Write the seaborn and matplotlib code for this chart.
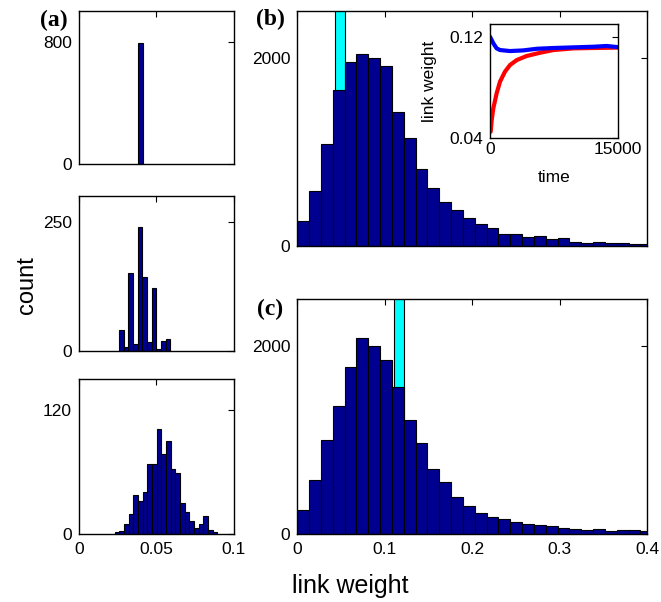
import numpy as np
import pandas as pd
import matplotlib
matplotlib.use("Agg")
import matplotlib.pyplot as plt
import seaborn as sns

# ---------------- data ----------------
# panel (a) histograms (bin width 0.003)
a1_start = 0.0382
a1_counts = [790]
a2_start = 0.0259
a2_counts = [40, 8, 150, 13, 240, 143, 18, 121, 3, 20, 23]
a3_start = 0.0231
a3_counts = [1.6, 2.6, 9, 19.4, 37.5, 31.4, 40.4, 67.6, 67.9, 102, 77.3, 89.9,
             63, 58.5, 30, 21.3, 12.3, 5.8, 9, 17.1, 3.6, 1.6]
a_bin = 0.00302

# panels (b), (c) histograms (30 bins from 0, width 0.0135)
bc_bin = 0.01352
b_counts = [265, 584, 1080, 1653, 1950, 2042, 1996, 1908, 1427, 1147, 821, 616,
            464, 382, 294, 230, 191, 124, 124, 88, 103, 67, 81, 39, 25, 39, 32,
            25, 21, 14]
c_counts = [255, 570, 1005, 1363, 1784, 2088, 2007, 1855, 1561, 1218, 966, 697,
            552, 389, 297, 219, 180, 163, 127, 106, 96, 81, 64, 50, 42, 57, 32,
            39, 42, 28]
# initial (delta) link weight, shown in cyan
b_init_edges = [0.0432, 0.0546]
c_init_edges = [0.1106, 0.1224]
init_height = [3000]

# inset: mean link weight vs time
t_blue = [0, 390, 780, 1175, 2350, 3900, 5500, 7450, 9800, 12150, 13700, 15000]
w_blue = [0.1200, 0.1148, 0.1108, 0.1095, 0.1087, 0.1092, 0.1105, 0.1111,
          0.1116, 0.1121, 0.1127, 0.1118]
t_red = [80, 200, 390, 780, 1175, 1760, 2350, 3140, 4300, 5900, 7450, 9800,
         12150, 15000]
w_red = [0.0452, 0.0544, 0.0636, 0.0754, 0.0846, 0.0925, 0.0977, 0.1016,
         0.1048, 0.1074, 0.1095, 0.1108, 0.1111, 0.1114]

# ---------------- style ----------------
sns.set_theme(style="white")
plt.rcParams["font.family"] = ["Liberation Sans", "DejaVu Sans"]

NAVY = "#000090"
CYAN = "#00FFFF"
W, H = 661, 602
fig = plt.figure(figsize=(W / 100, H / 100), dpi=100)
fig.patch.set_facecolor("white")


def add_ax(l, t, r, b):
    return fig.add_axes([l / W, 1 - b / H, (r - l) / W, (b - t) / H])


def style(ax, xlab=True, fs=12.5):
    ax.tick_params(direction="in", length=4, width=0.8, top=True, right=True,
                   labelsize=fs, colors="black", pad=5)
    ax.tick_params(axis="x", labelbottom=xlab, pad=6)
    for s in ax.spines.values():
        s.set_linewidth(1.0)
        s.set_color("black")
    ax.set_xlabel("")
    ax.set_ylabel("")
    ax.grid(False)


def hist(ax, start, width, counts, color):
    n = len(counts)
    edges = [float(start + width * k) for k in range(n + 1)]
    df = pd.DataFrame({"w": [(edges[k] + edges[k + 1]) / 2 for k in range(n)],
                       "n": list(counts)})
    sns.histplot(data=df, x="w", weights="n", bins=edges, ax=ax, color=color,
                 edgecolor="black", linewidth=0.8, alpha=1.0)


# ---- panel (a) ----
a_axes = [
    (add_ax(79, 11, 233.5, 164), a1_start, a1_counts, 1000, [0, 800]),
    (add_ax(79, 195.7, 233.5, 351), a2_start, a2_counts, 300, [0, 250]),
    (add_ax(79, 379.3, 233.5, 533.7), a3_start, a3_counts, 150, [0, 120]),
]
for i, (ax, st, cnt, ymax, yt) in enumerate(a_axes):
    hist(ax, st, a_bin, cnt, NAVY)
    ax.set_xlim(0, 0.1)
    ax.set_ylim(0, ymax)
    ax.set_yticks(yt)
    ax.set_yticklabels([str(v) for v in yt])
    ax.set_xticks([0, 0.05, 0.1])
    ax.set_xticklabels(["0", "0.05", "0.1"])
    style(ax, xlab=(i == 2))

# ---- panels (b), (c) ----
for (t, b, cnt, init, lab) in [(10.7, 245.7, b_counts, b_init_edges, False),
                               (299.3, 534, c_counts, c_init_edges, True)]:
    ax = add_ax(297.3, t, 647.3, b)
    dfi = pd.DataFrame({"w": [(init[0] + init[1]) / 2], "n": init_height})
    sns.histplot(data=dfi, x="w", weights="n", bins=list(init), ax=ax,
                 color=CYAN, edgecolor="black", linewidth=0.8, alpha=1.0)
    hist(ax, 0.0, bc_bin, cnt, NAVY)
    ax.set_xlim(0, 0.4)
    ax.set_ylim(0, 2500)
    ax.set_yticks([0, 2000])
    ax.set_yticklabels(["0", "2000"])
    ax.set_xticks([0, 0.1, 0.2, 0.3, 0.4])
    ax.set_xticklabels(["0", "0.1", "0.2", "0.3", "0.4"])
    style(ax, xlab=lab)

# ---- inset ----
axi = add_ax(490, 24, 617.7, 138.3)
axi.set_facecolor("white")
sns.lineplot(x=t_red, y=w_red, ax=axi, color="#FF0000", linewidth=3)
sns.lineplot(x=t_blue, y=w_blue, ax=axi, color="#0000FF", linewidth=3)
axi.set_xlim(0, 15000)
axi.set_ylim(0.04, 0.13)
axi.set_xticks([0, 15000])
axi.set_xticklabels(["0", "15000"])
axi.set_yticks([0.04, 0.12])
axi.set_yticklabels(["0.04", "0.12"])
style(axi, fs=12.5)
axi.tick_params(axis="x", pad=3)
axi.set_xlabel("time", fontsize=12.5, labelpad=9, color="black")
axi.set_ylabel("link weight", fontsize=12.5, labelpad=9, color="black")

# ---- labels ----
fig.text(27.5 / W, 1 - 285 / H, "count", rotation=90, ha="center", va="center",
         fontsize=17, color="black")
fig.text(350 / W, 1 - 586 / H, "link weight", ha="center", va="center",
         fontsize=18, color="black")
for txt, x, y in [("(a)", 53.5, 20), ("(b)", 270.5, 19), ("(c)", 270, 309)]:
    fig.text(x / W, 1 - y / H, txt, ha="center", va="center", fontsize=17,
             fontweight="bold", family=["Liberation Serif", "DejaVu Serif"],
             color="black")

fig.savefig("out.png", dpi=100, facecolor="white")
